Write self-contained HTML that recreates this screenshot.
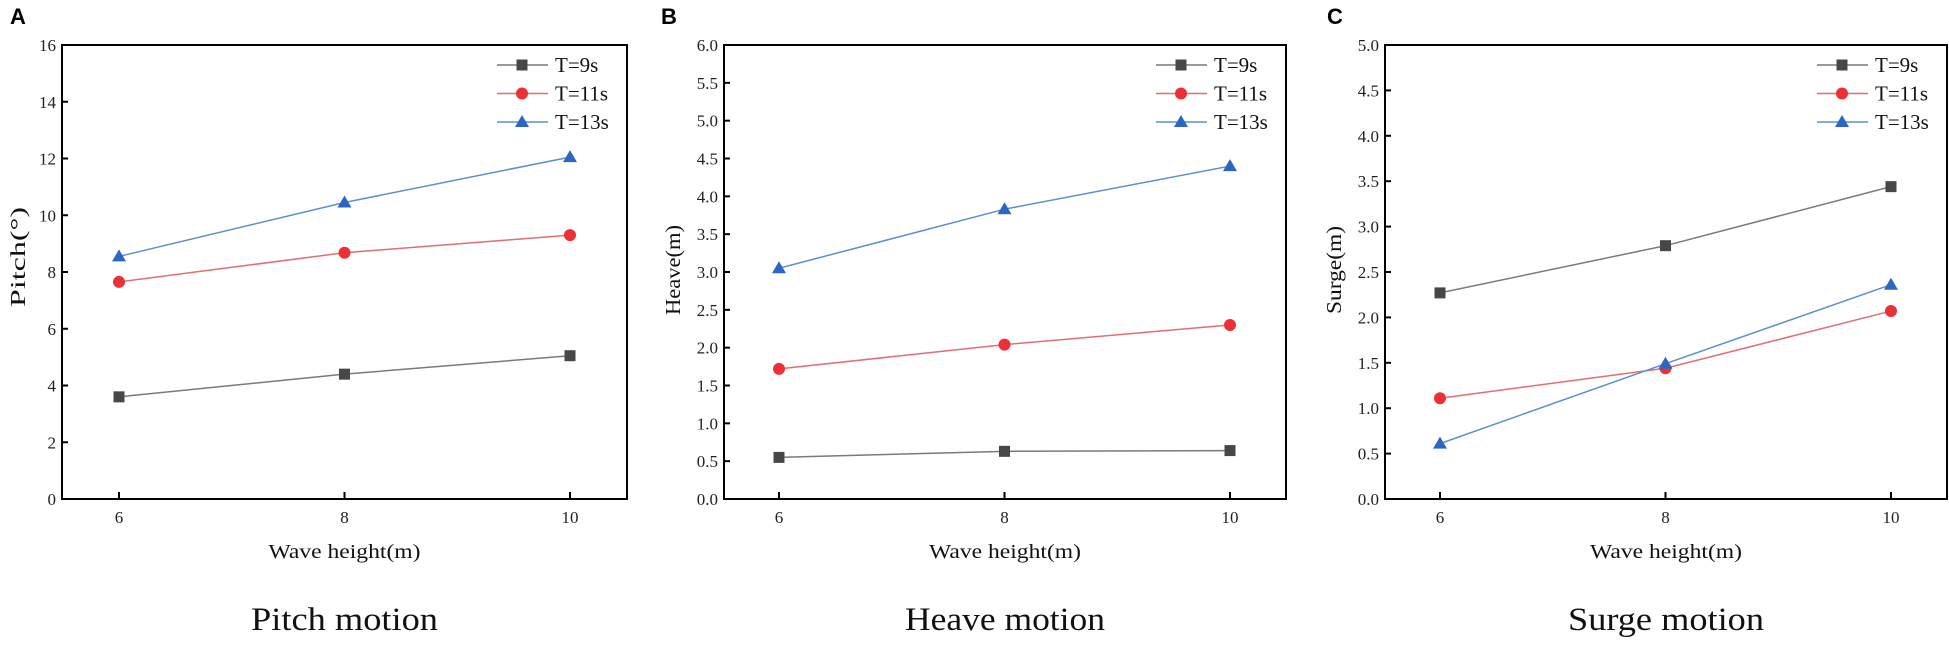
<!DOCTYPE html>
<html><head><meta charset="utf-8"><style>
html,body{margin:0;padding:0;background:#fff;}
svg{display:block;font-family:"Liberation Serif",serif;}
</style></head><body>
<svg id="fig" width="1949" height="647" viewBox="0 0 1949 647" xmlns="http://www.w3.org/2000/svg"></svg>
<script>
const categories = [6, 8, 10];
const seriesNames = ["T=9s", "T=11s", "T=13s"];
const pitchT9 = [3.6, 4.4, 5.05];
const pitchT11 = [7.65, 8.68, 9.3];
const pitchT13 = [8.55, 10.45, 12.05];
const heaveT9 = [0.55, 0.63, 0.64];
const heaveT11 = [1.72, 2.04, 2.3];
const heaveT13 = [3.05, 3.83, 4.4];
const surgeT9 = [2.27, 2.79, 3.44];
const surgeT11 = [1.11, 1.44, 2.07];
const surgeT13 = [0.61, 1.49, 2.36];
const pitchTicks = [0, 2, 4, 6, 8, 10, 12, 14, 16];
const heaveTicks = [0, 0.5, 1, 1.5, 2, 2.5, 3, 3.5, 4, 4.5, 5, 5.5, 6];
const surgeTicks = [0, 0.5, 1, 1.5, 2, 2.5, 3, 3.5, 4, 4.5, 5];

const NS = "http://www.w3.org/2000/svg";
const svg = document.getElementById("fig");
function mk(tag, attrs, parent, text) {
  const e = document.createElementNS(NS, tag);
  for (const k in attrs) e.setAttribute(k, attrs[k]);
  if (text !== undefined) e.textContent = text;
  (parent || svg).appendChild(e);
  return e;
}
const lineColors = ["#7a7a7a", "#e07070", "#5b8fd0"];
const markColors = ["#474747", "#ec3038", "#2d66c0"];

function marker(g, i, x, y) {
  let m;
  if (i === 0) m = mk("rect", {x: x - 5.5, y: y - 5.5, width: 11, height: 11, fill: markColors[0]}, g);
  else if (i === 1) m = mk("circle", {cx: x, cy: y, r: 6, fill: markColors[1]}, g);
  else m = mk("polygon", {points: `${x},${y - 7} ${x - 7},${y + 5} ${x + 7},${y + 5}`, fill: markColors[2]}, g);
  return m;
}

function panel(cfg) {
  const g = mk("g", {});
  
  
  const L = cfg.left, R = cfg.right, T = 45, B = 499;
  const yMax = cfg.ticks[cfg.ticks.length - 1];
  const ys = v => B - v / yMax * (B - T);
  const xs = v => cfg.x6 + (v - 6) / 4 * (cfg.x10 - cfg.x6);
  const fr = mk("rect", {x: L, y: T, width: R - L, height: B - T, fill: "none", stroke: "#000", "stroke-width": 2}, g);
  
  
  cfg.ticks.forEach(t => {
    const y = ys(t);
    mk("line", {x1: L, x2: L + 6, y1: y, y2: y, stroke: "#000", "stroke-width": 2}, g);
    const tl = mk("text", {x: L - 6, y: y + 6, "text-anchor": "end", "font-size": 17, fill: "#222"}, g, cfg.dec ? t.toFixed(1) : String(t));
    
    
  });
  categories.forEach(c => {
    const x = xs(c);
    mk("line", {x1: x, x2: x, y1: B, y2: B - 7, stroke: "#000", "stroke-width": 2}, g);
    const tl = mk("text", {x: x, y: B + 24, "text-anchor": "middle", "font-size": 17, fill: "#222"}, g, String(c));
    
    
  });
  const xt = mk("text", {x: (L + R) / 2, y: 558, "text-anchor": "middle", "font-size": 20, textLength: 152, lengthAdjust: "spacingAndGlyphs", fill: "#111"}, g, "Wave height(m)");
  
  
  const yt = mk("text", {x: 0, y: 0, transform: `translate(${L - cfg.ylOff},${cfg.ylY}) rotate(-90)`, "text-anchor": "middle", "font-size": 21, textLength: cfg.ylLen, lengthAdjust: "spacingAndGlyphs", fill: "#111"}, g, cfg.ylabel);
  
  
  const pt = mk("text", {x: (L + R) / 2, y: 630, "text-anchor": "middle", "font-size": 33, textLength: cfg.titleLen, lengthAdjust: "spacingAndGlyphs", fill: "#111"}, g, cfg.title);
  
  
  const lt = mk("text", {x: cfg.letterX, y: 24, "font-size": 22, "font-weight": "bold", "font-family": "Liberation Sans, sans-serif", fill: "#000"}, g, cfg.letter);
  
  
  cfg.series.forEach((vals, i) => {
    const sg = mk("g", {}, g);
    
    
    const pts = vals.map((v, k) => xs(categories[k]) + "," + ys(v)).join(" ");
    mk("polyline", {points: pts, fill: "none", stroke: lineColors[i], "stroke-width": 1.5}, sg);
    vals.forEach((v, k) => {
      const m = marker(sg, i, xs(categories[k]), ys(v));
      
      
    });
    const ly = 65 + i * 28.5;
    const lx = R - 130;
    const le = mk("g", {}, g);
    
    
    mk("line", {x1: lx, x2: lx + 51, y1: ly, y2: ly, stroke: lineColors[i], "stroke-width": 1.5}, le);
    marker(le, i, lx + 25, ly);
    mk("text", {x: lx + 58, y: ly + 7, "font-size": 21, fill: "#111"}, le, seriesNames[i]);
  });
}

panel({name: "pitch", left: 62, right: 627, x6: 119, x10: 570, ticks: pitchTicks, dec: false,
  ylabel: "Pitch(°)", ylOff: 37, ylY: 257, ylLen: 100, title: "Pitch motion", titleLen: 187,
  letter: "A", letterX: 10, series: [pitchT9, pitchT11, pitchT13]});
panel({name: "heave", left: 724, right: 1286, x6: 779, x10: 1230, ticks: heaveTicks, dec: true,
  ylabel: "Heave(m)", ylOff: 44, ylY: 270, ylLen: 90, title: "Heave motion", titleLen: 200,
  letter: "B", letterX: 661, series: [heaveT9, heaveT11, heaveT13]});
panel({name: "surge", left: 1385, right: 1947, x6: 1440, x10: 1891, ticks: surgeTicks, dec: true,
  ylabel: "Surge(m)", ylOff: 44, ylY: 270, ylLen: 88, title: "Surge motion", titleLen: 196,
  letter: "C", letterX: 1327, series: [surgeT9, surgeT11, surgeT13]});
</script>
</body></html>
